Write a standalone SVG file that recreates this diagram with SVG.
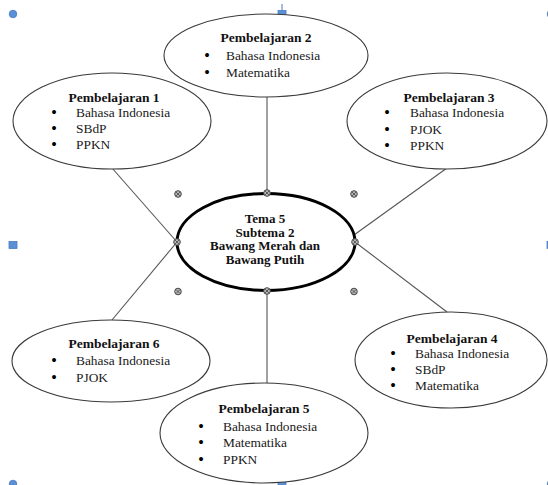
<svg xmlns="http://www.w3.org/2000/svg" width="548" height="485" viewBox="0 0 548 485">
<style>
.bg{fill:#ffffff}
.node{fill:#ffffff;stroke:#3a3a3a;stroke-width:1.1}
.core{fill:#ffffff;stroke:#000000;stroke-width:3}
.conn{stroke:#555555;stroke-width:1.1;fill:none}
.t{font-family:"Liberation Serif","Times New Roman",serif;font-size:13.5px;font-weight:bold;fill:#111111;text-anchor:middle}
.i{font-family:"Liberation Serif","Times New Roman",serif;font-size:13.4px;fill:#1a1a1a}
.b{font-size:14.5px;font-weight:bold;fill:#000000}
.c{font-family:"Liberation Serif","Times New Roman",serif;font-size:13px;font-weight:bold;fill:#111111;text-anchor:middle}
.h{fill:#b8b8b8;stroke:#444444;stroke-width:1}
.hx{stroke:#444444;stroke-width:0.8}
.sel{fill:#5b8fd6;stroke:#4a7cc0;stroke-width:0.8}
</style>
<defs>
<g id="hd"><circle class="h" cx="0" cy="0" r="3.3"/><path class="hx" d="M-2,-2L2,2M-2,2L2,-2"/></g>
</defs>
<rect class="bg" x="0" y="0" width="548" height="485"/>
<g id="selection">
<line x1="282" y1="4" x2="282" y2="11" stroke="#4a7cc0" stroke-width="1"/>
<circle class="sel" cx="13" cy="14" r="3.8"/>
<rect class="sel" x="278" y="10.5" width="8" height="7"/>
<circle class="sel" cx="551" cy="14" r="3.8"/>
<rect class="sel" x="9" y="241.5" width="8" height="7"/>
<rect class="sel" x="547" y="241.5" width="8" height="7"/>
<circle class="sel" cx="13" cy="484" r="3.8"/>
<rect class="sel" x="278" y="481" width="8" height="7"/>
<circle class="sel" cx="551" cy="484" r="3.8"/>
</g>
<g id="connectors">
<line class="conn" x1="267" y1="96" x2="267" y2="193"/>
<line class="conn" x1="112" y1="168" x2="177" y2="242"/>
<line class="conn" x1="447" y1="168" x2="354" y2="235"/>
<line class="conn" x1="177" y1="242" x2="112" y2="320"/>
<line class="conn" x1="355" y1="242" x2="447" y2="312"/>
<line class="conn" x1="267" y1="291" x2="267" y2="383"/>
</g>
<g id="p2">
<ellipse class="node" cx="266" cy="55.5" rx="102" ry="41.5"/>
<text class="t" x="266" y="42">Pembelajaran 2</text>
<text class="i" y="60"><tspan class="b" x="204.5">•</tspan><tspan x="226">Bahasa Indonesia</tspan></text>
<text class="i" y="77"><tspan class="b" x="204.5">•</tspan><tspan x="226">Matematika</tspan></text>
</g>
<g id="p1">
<ellipse class="node" cx="112" cy="121" rx="99" ry="48"/>
<text class="t" x="114" y="102">Pembelajaran 1</text>
<text class="i" y="117"><tspan class="b" x="51.5">•</tspan><tspan x="76">Bahasa Indonesia</tspan></text>
<text class="i" y="133"><tspan class="b" x="51.5">•</tspan><tspan x="76">SBdP</tspan></text>
<text class="i" y="149"><tspan class="b" x="51.5">•</tspan><tspan x="76">PPKN</tspan></text>
</g>
<g id="p3">
<ellipse class="node" cx="447" cy="121" rx="100" ry="48"/>
<text class="t" x="449" y="102">Pembelajaran 3</text>
<text class="i" y="117"><tspan class="b" x="384.5">•</tspan><tspan x="410">Bahasa Indonesia</tspan></text>
<text class="i" y="134"><tspan class="b" x="384.5">•</tspan><tspan x="410">PJOK</tspan></text>
<text class="i" y="150"><tspan class="b" x="384.5">•</tspan><tspan x="410">PPKN</tspan></text>
</g>
<g id="p4">
<ellipse class="node" cx="451" cy="360" rx="96" ry="48"/>
<text class="t" x="452" y="343">Pembelajaran 4</text>
<text class="i" y="358"><tspan class="b" x="390.5">•</tspan><tspan x="415">Bahasa Indonesia</tspan></text>
<text class="i" y="374"><tspan class="b" x="390.5">•</tspan><tspan x="415">SBdP</tspan></text>
<text class="i" y="390"><tspan class="b" x="390.5">•</tspan><tspan x="415">Matematika</tspan></text>
</g>
<g id="p5">
<ellipse class="node" cx="264" cy="433" rx="104" ry="50"/>
<text class="t" x="264" y="413">Pembelajaran 5</text>
<text class="i" y="431"><tspan class="b" x="198.5">•</tspan><tspan x="223">Bahasa Indonesia</tspan></text>
<text class="i" y="447"><tspan class="b" x="198.5">•</tspan><tspan x="223">Matematika</tspan></text>
<text class="i" y="464"><tspan class="b" x="198.5">•</tspan><tspan x="223">PPKN</tspan></text>
</g>
<g id="p6">
<ellipse class="node" cx="111" cy="361" rx="99" ry="41"/>
<text class="t" x="114" y="348">Pembelajaran 6</text>
<text class="i" y="365"><tspan class="b" x="51.5">•</tspan><tspan x="76">Bahasa Indonesia</tspan></text>
<text class="i" y="382"><tspan class="b" x="51.5">•</tspan><tspan x="76">PJOK</tspan></text>
</g>
<g id="tema">
<ellipse class="core" cx="266" cy="242" rx="89" ry="48.5"/>
<text class="c" x="265" y="223">Tema 5</text>
<text class="c" x="265" y="236.5">Subtema 2</text>
<text class="c" x="265" y="250">Bawang Merah dan</text>
<text class="c" x="265" y="263.5">Bawang Putih</text>
</g>
<g id="handles">
<use href="#hd" x="178" y="194"/>
<use href="#hd" x="267" y="193"/>
<use href="#hd" x="354" y="194"/>
<use href="#hd" x="177" y="242"/>
<use href="#hd" x="355" y="242"/>
<use href="#hd" x="178" y="291.5"/>
<use href="#hd" x="267" y="291"/>
<use href="#hd" x="354" y="291.5"/>
</g>
</svg>
